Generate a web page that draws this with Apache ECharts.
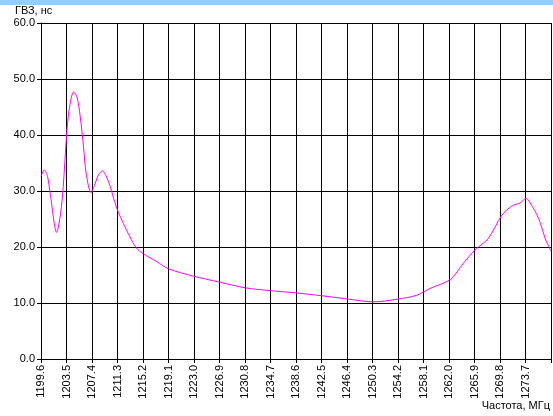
<!DOCTYPE html>
<html>
<head>
<meta charset="utf-8">
<script src="https://cdn.jsdelivr.net/npm/echarts@6/dist/echarts.min.js"></script>
<style>
html,body{margin:0;padding:0;background:#fff;}
#c{width:553px;height:416px;}
</style>
</head>
<body>
<div id="c"></div>
<script>
// Frequency (MHz) and group delay (ns)
var freqStart = 1199.6;
var freqStep = 3.9;
var freqEnd = 1277.6;
var freqs = [1199.6,1200.1,1200.6,1201.0,1202.0,1202.6,1203.0,1203.5,1203.9,1204.6,1205.1,1205.6,1206.1,1206.5,1207.25,1207.9,1208.4,1209.0,1209.55,1210.2,1210.7,1211.4,1212.2,1213.2,1214.2,1215.3,1217.3,1219.1,1222.9,1227.0,1230.9,1234.7,1238.6,1242.5,1246.6,1250.4,1254.2,1257.1,1259.1,1262.2,1264.2,1266.0,1268.0,1270.1,1271.6,1272.9,1273.8,1274.4,1275.7,1276.8,1277.6];
var delays = [32.6,33.75,32.6,29.6,22.6,26.0,30.8,39.7,44.5,47.7,46.8,43.3,37.9,33.2,29.7,31.4,32.9,33.6,32.7,30.8,28.7,26.3,24.2,21.8,19.8,18.75,17.4,16.1,14.8,13.7,12.7,12.2,11.8,11.3,10.7,10.2,10.7,11.4,12.6,14.2,17.1,19.5,21.5,25.7,27.3,27.9,28.7,27.9,25.1,21.25,19.3];
var yTitle = 'ГВЗ, нс';
var xTitle = 'Частота, МГц';

var pts = freqs.map(function(f,i){ return [f - freqStart, delays[i]]; });
var font = 'Liberation Sans, Arial, sans-serif';
var chart = echarts.init(document.getElementById('c'));
chart.setOption({
  animation:false,
  backgroundColor:'#fff',
  grid:{left:41, right:2, top:23, bottom:57},
  xAxis:{
    type:'value', min:0, max:+(freqEnd-freqStart).toFixed(1), interval:freqStep,
    axisLine:{lineStyle:{color:'#000',width:1}},
    axisTick:{show:true,length:4,lineStyle:{color:'#000'}},
    splitLine:{show:true,lineStyle:{color:'#000',width:1}},
    axisLabel:{rotate:90, margin:6, color:'#000', fontSize:11, fontFamily:font,
      formatter:function(v){ return v > 77 ? '' : (freqStart + v).toFixed(1); }}
  },
  yAxis:{
    type:'value', min:0, max:60, interval:10,
    axisLine:{show:true,lineStyle:{color:'#000',width:1}},
    axisTick:{show:true,length:4,lineStyle:{color:'#000'}},
    splitLine:{show:true,lineStyle:{color:'#000',width:1}},
    axisLabel:{margin:6, color:'#000', fontSize:11, fontFamily:font,
      formatter:function(v){ return v.toFixed(1); }}
  },
  graphic:[
    {type:'rect', left:0, top:0, shape:{width:553,height:5}, style:{fill:'#99CCFF'}},
    {type:'text', left:15, top:5, style:{text:yTitle, fill:'#000', font:'11px '+font}},
    {type:'text', right:3, top:400, style:{text:xTitle, fill:'#000', font:'11px '+font}}
  ],
  series:[{
    type:'line', data:pts, showSymbol:false, smooth:0.3,
    lineStyle:{color:'#FF00FF', width:1}, itemStyle:{color:'#FF00FF'}
  }]
});
</script>
</body>
</html>
